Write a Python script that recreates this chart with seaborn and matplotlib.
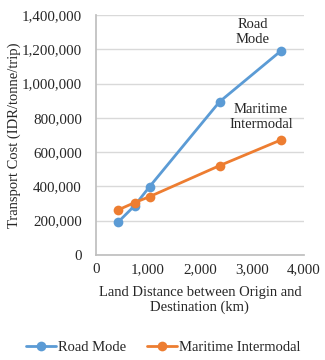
import pandas as pd
import matplotlib.pyplot as plt
import matplotlib.ticker as mticker
import seaborn as sns

# Values
distance_km = [423, 744, 1032, 2378, 3558]
road_cost = [190000, 287000, 398000, 894000, 1191000]
maritime_cost = [262000, 305000, 340000, 521000, 671000]
series_names = ["Road Mode", "Maritime Intermodal"]

sns.set_theme(style="white")
plt.rcParams['font.family'] = ['Liberation Serif', 'DejaVu Serif']

data = pd.concat([
    pd.DataFrame({'Distance': distance_km, 'Cost': road_cost, 'Mode': series_names[0]}),
    pd.DataFrame({'Distance': distance_km, 'Cost': maritime_cost, 'Mode': series_names[1]}),
])

fig = plt.figure(figsize=(3.25, 3.6), dpi=100)
ax = fig.add_axes([0.295, 0.292, 0.64, 0.666])

palette = {series_names[0]: '#5B9BD5', series_names[1]: '#ED7D31'}
sns.lineplot(data=data, x='Distance', y='Cost', hue='Mode', palette=palette,
             marker='o', markersize=7, markeredgewidth=0, linewidth=2,
             ax=ax, legend=True)

ax.set_xlim(0, 4000)
ax.set_ylim(0, 1400000)
ax.xaxis.set_major_locator(mticker.MultipleLocator(1000))
ax.yaxis.set_major_locator(mticker.MultipleLocator(200000))
ax.xaxis.set_major_formatter(mticker.StrMethodFormatter('{x:,.0f}'))
ax.yaxis.set_major_formatter(mticker.StrMethodFormatter('{x:,.0f}'))
ax.tick_params(labelsize=10.8, colors='#262626', length=0)
ax.tick_params(axis='y', pad=10)
ax.tick_params(axis='x', pad=6)
ax.yaxis.grid(True, color='#D9D9D9', linewidth=1)

for side in ['top', 'right']:
    ax.spines[side].set_visible(False)
for side in ['left', 'bottom']:
    ax.spines[side].set_color('#BFBFBF')

ax.set_xlabel('Land Distance between Origin and\nDestination (km)', fontsize=10.5,
              color='#262626', labelpad=7, linespacing=1.2)
ax.set_ylabel('Transport Cost (IDR/tonne/trip)', fontsize=10.5, color='#262626')
ax.yaxis.set_label_coords(-0.36, 0.5)

ax.text(3019, 1300000, 'Road\nMode', ha='center', va='center', fontsize=10.5,
        color='#262626', linespacing=1.2)
ax.text(3173, 805000, 'Maritime\nIntermodal', ha='center', va='center', fontsize=10.5,
        color='#262626', linespacing=1.2)

ax.get_legend().remove()
handles, labels = ax.get_legend_handles_labels()
fig.legend(handles, labels, loc='center', bbox_to_anchor=(0.502, 0.036), ncol=2,
           frameon=False, fontsize=10.5, handlelength=2.05, columnspacing=1.4,
           handletextpad=0.15, labelcolor='#262626', borderaxespad=0)

fig.savefig('out.png', dpi=100)
